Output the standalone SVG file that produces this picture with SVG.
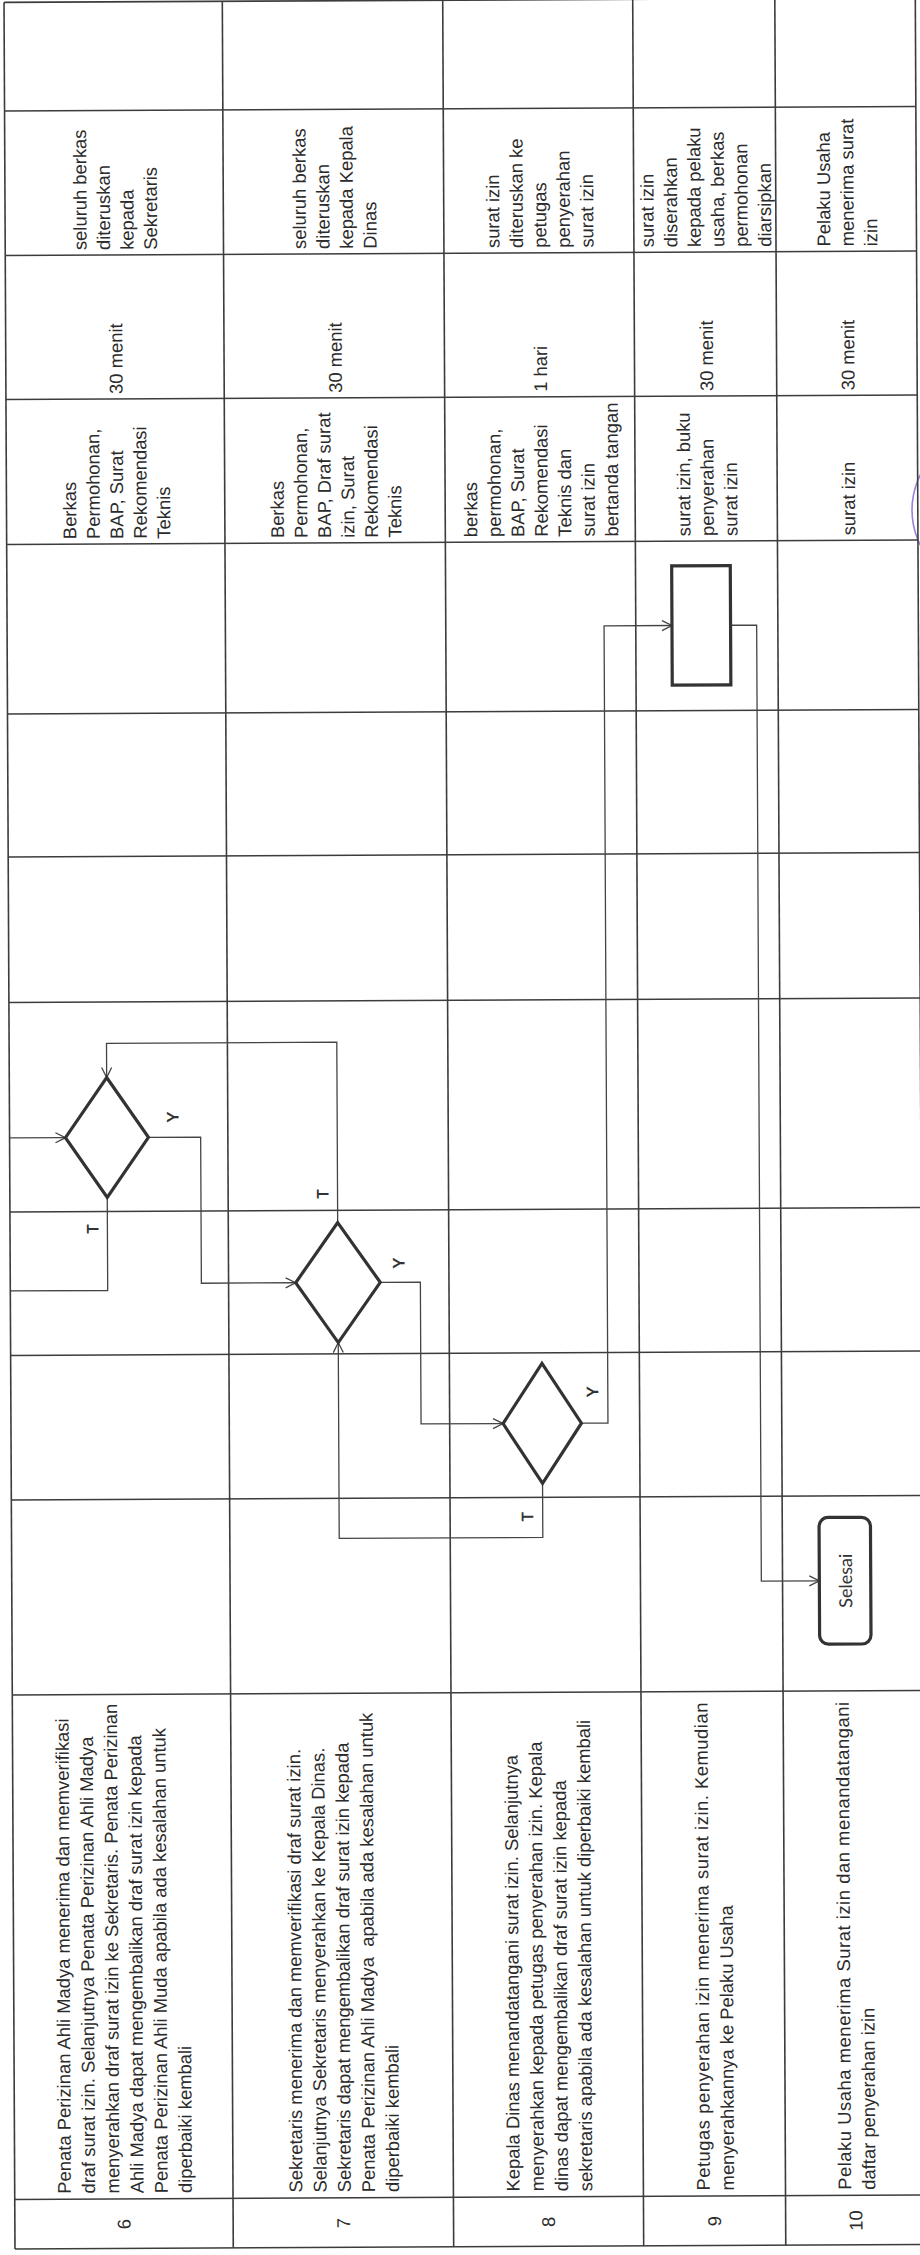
<svg xmlns="http://www.w3.org/2000/svg" width="920" height="2255" viewBox="0 0 920 2255">
<style>
.grid line{stroke:#3c3c3c;stroke-width:1.6}
.t{font-family:"Liberation Sans",Arial,sans-serif;font-size:18.4px;fill:#2b2b2b}
.lbl{font-family:Lato,"Liberation Sans",sans-serif;font-size:16px;font-weight:bold;fill:#333;text-anchor:middle;dominant-baseline:central}
.shape{fill:none;stroke:#333;stroke-width:3.2;stroke-linejoin:miter}
.conn path{fill:none;stroke:#444;stroke-width:1.3}
</style>
<defs>
<marker id="arr" viewBox="0 0 12 12" refX="11" refY="6" markerWidth="12" markerHeight="12" markerUnits="userSpaceOnUse" orient="auto">
<path d="M1,1 L11,6 L1,11" fill="none" stroke="#444" stroke-width="1.3"/>
</marker>
</defs>
<rect x="0" y="0" width="920" height="2255" fill="#fff"/>
<path d="M990,432 A78,78 0 0 0 990,588" fill="none" stroke="#9a80dc" stroke-width="1.6"/>
<g transform="rotate(-0.28)">
<g id="table" class="grid">
<line x1="4" y1="2.4" x2="4" y2="2249"/>
<line x1="222.3" y1="2.4" x2="222.3" y2="2249"/>
<line x1="442.7" y1="2.4" x2="442.7" y2="2249"/>
<line x1="632.7" y1="2.4" x2="632.7" y2="2249"/>
<line x1="774.8" y1="2.4" x2="774.8" y2="2249"/>
<line x1="915.3" y1="2.4" x2="915.3" y2="2249"/>
<line x1="4" y1="2.4" x2="915.3" y2="2.4"/>
<line x1="4" y1="111" x2="915.3" y2="111"/>
<line x1="4" y1="255.5" x2="915.3" y2="255.5"/>
<line x1="4" y1="399.5" x2="915.3" y2="399.5"/>
<line x1="4" y1="544.5" x2="915.3" y2="544.5"/>
<line x1="4" y1="714" x2="915.3" y2="714"/>
<line x1="4" y1="857" x2="915.3" y2="857"/>
<line x1="4" y1="1002.5" x2="915.3" y2="1002.5"/>
<line x1="4" y1="1212" x2="915.3" y2="1212"/>
<line x1="4" y1="1355.5" x2="915.3" y2="1355.5"/>
<line x1="4" y1="1500" x2="915.3" y2="1500"/>
<line x1="4" y1="1695" x2="915.3" y2="1695"/>
<line x1="4" y1="2199.5" x2="915.3" y2="2199.5"/>
<line x1="4" y1="2249" x2="915.3" y2="2249"/>
</g>

<g id="numbers" class="t" text-anchor="middle">
<text transform="translate(119.6,2224.7) rotate(-90)">6</text>
<text transform="translate(339,2224.7) rotate(-90)">7</text>
<text transform="translate(544.2,2224.7) rotate(-90)">8</text>
<text transform="translate(710.2,2224.7) rotate(-90)">9</text>
<text transform="translate(851.5,2224.7) rotate(-90)">10</text>
</g>

<g id="kegiatan" class="t">
<g transform="translate(60.15,2194) rotate(-90)">
<text x="0" y="0">Penata Perizinan Ahli Madya menerima dan memverifikasi</text>
<text x="0" y="24.2">draf surat izin. Selanjutnya Penata Perizinan Ahli Madya</text>
<text x="0" y="48.4">menyerahkan draf surat izin ke Sekretaris. Penata Perizinan</text>
<text x="0" y="72.6">Ahli Madya dapat mengembalikan draf surat izin kepada</text>
<text x="0" y="96.8">Penata Perizinan Ahli Muda apabila ada kesalahan untuk</text>
<text x="0" y="121">diperbaiki kembali</text>
</g>
<g transform="translate(291.6,2194) rotate(-90)">
<text x="0" y="0">Sekretaris menerima dan memverifikasi draf surat izin.</text>
<text x="0" y="24.2">Selanjutnya Sekretaris menyerahkan ke Kepala Dinas.</text>
<text x="0" y="48.4">Sekretaris dapat mengembalikan draf surat izin kepada</text>
<text x="0" y="72.6">Penata Perizinan Ahli Madya&#160; apabila ada kesalahan untuk</text>
<text x="0" y="96.8">diperbaiki kembali</text>
</g>
<g transform="translate(508.9,2194) rotate(-90)">
<text x="0" y="0">Kepala Dinas menandatangani surat izin. Selanjutnya</text>
<text x="0" y="24.2">menyerahkan kepada petugas penyerahan izin. Kepala</text>
<text x="0" y="48.4">dinas dapat mengembalikan draf surat izin kepada</text>
<text x="0" y="72.6">sekretaris apabila ada kesalahan untuk diperbaiki kembali</text>
</g>
<g transform="translate(699.15,2194) rotate(-90)">
<text x="0" y="0" textLength="488" lengthAdjust="spacing">Petugas penyerahan izin menerima surat izin. Kemudian</text>
<text x="0" y="24.2">menyerahkannya ke Pelaku Usaha</text>
</g>
<g transform="translate(840.45,2194) rotate(-90)">
<text x="0" y="0" textLength="488" lengthAdjust="spacing">Pelaku Usaha menerima Surat izin dan menandatangani</text>
<text x="0" y="24.2">daftar penyerahan izin</text>
</g>
</g>

<g id="kelengkapan" class="t">
<g transform="translate(73.65,539.5) rotate(-90)">
<text x="0" y="0">Berkas</text>
<text x="0" y="23.5">Permohonan,</text>
<text x="0" y="47">BAP, Surat</text>
<text x="0" y="70.5">Rekomendasi</text>
<text x="0" y="94">Teknis</text>
</g>
<g transform="translate(281.25,539.5) rotate(-90)">
<text x="0" y="0">Berkas</text>
<text x="0" y="23.5">Permohonan,</text>
<text x="0" y="47">BAP, Draf surat</text>
<text x="0" y="70.5">izin, Surat</text>
<text x="0" y="94">Rekomendasi</text>
<text x="0" y="117.5">Teknis</text>
</g>
<g transform="translate(474.7,539.5) rotate(-90)">
<text x="0" y="0">berkas</text>
<text x="0" y="23.5">permohonan,</text>
<text x="0" y="47">BAP, Surat</text>
<text x="0" y="70.5">Rekomendasi</text>
<text x="0" y="94">Teknis dan</text>
<text x="0" y="117.5">surat izin</text>
<text x="0" y="141">bertanda tangan</text>
</g>
<g transform="translate(687.75,539.5) rotate(-90)">
<text x="0" y="0">surat izin, buku</text>
<text x="0" y="23.5">penyerahan</text>
<text x="0" y="47">surat izin</text>
</g>
<g transform="translate(852.55,539.5) rotate(-90)">
<text x="0" y="0">surat izin</text>
</g>
</g>

<g id="waktu" class="t">
<text transform="translate(120.65,394.5) rotate(-90)">30 menit</text>
<text transform="translate(340,394.5) rotate(-90)">30 menit</text>
<text transform="translate(545.2,394.5) rotate(-90)">1 hari</text>
<text transform="translate(711.25,394.5) rotate(-90)">30 menit</text>
<text transform="translate(852.55,394.5) rotate(-90)">30 menit</text>
</g>

<g id="output" class="t">
<g transform="translate(85.4,250.5) rotate(-90)">
<text x="0" y="0">seluruh berkas</text>
<text x="0" y="23.5">diteruskan</text>
<text x="0" y="47">kepada</text>
<text x="0" y="70.5">Sekretaris</text>
</g>
<g transform="translate(304.75,250.5) rotate(-90)">
<text x="0" y="0">seluruh berkas</text>
<text x="0" y="23.5">diteruskan</text>
<text x="0" y="47">kepada Kepala</text>
<text x="0" y="70.5">Dinas</text>
</g>
<g transform="translate(498.2,250.5) rotate(-90)">
<text x="0" y="0">surat izin</text>
<text x="0" y="23.5">diteruskan ke</text>
<text x="0" y="47">petugas</text>
<text x="0" y="70.5">penyerahan</text>
<text x="0" y="94">surat izin</text>
</g>
<g transform="translate(652.5,250.5) rotate(-90)">
<text x="0" y="0">surat izin</text>
<text x="0" y="23.5">diserahkan</text>
<text x="0" y="47">kepada pelaku</text>
<text x="0" y="70.5">usaha, berkas</text>
<text x="0" y="94">permohonan</text>
<text x="0" y="117.5">diarsipkan</text>
</g>
<g transform="translate(829.05,250.5) rotate(-90)">
<text x="0" y="0">Pelaku Usaha</text>
<text x="0" y="23.5">menerima surat</text>
<text x="0" y="47">izin</text>
</g>
</g>

<g id="connectors" class="conn">
<path d="M4,1138 H59.9" marker-end="url(#arr)"/>
<path d="M142.9,1138 H195.1 V1284.2 H289.4" marker-end="url(#arr)"/>
<path d="M101.4,1198 V1291 H4"/>
<path d="M331.7,1224.2 V1043.8 H101.4 V1078" marker-end="url(#arr)"/>
<path d="M374,1284.2 H414.1 V1426 H496.1" marker-end="url(#arr)"/>
<path d="M535.3,1486 V1540 H331.7 V1344.2" marker-end="url(#arr)"/>
<path d="M574.5,1426 H601 V628.8 H668.9" marker-end="url(#arr)"/>
<path d="M727.5,628.8 H753.6 V1584.8 H811.6" marker-end="url(#arr)"/>
</g>

<g id="decision-6">
<polygon class="shape" points="101.4,1078 142.9,1138 101.4,1198 59.9,1138"/>
<text class="lbl" transform="translate(166.5,1117.8) rotate(-90)">Y</text>
<text class="lbl" transform="translate(86,1229.5) rotate(-90)">T</text>
</g>
<g id="decision-7">
<polygon class="shape" points="331.7,1224.2 374,1284.2 331.7,1344.2 289.4,1284.2"/>
<text class="lbl" transform="translate(391.8,1265) rotate(-90)">Y</text>
<text class="lbl" transform="translate(316.1,1195.6) rotate(-90)">T</text>
</g>
<g id="decision-8">
<polygon class="shape" points="535.3,1366 574.5,1426 535.3,1486 496.1,1426"/>
<text class="lbl" transform="translate(584.9,1394.6) rotate(-90)">Y</text>
<text class="lbl" transform="translate(519.3,1519.3) rotate(-90)">T</text>
</g>
<g id="process-9">
<rect class="shape" x="668.9" y="569.2" width="58.6" height="119.3"/>
</g>
<g id="end-10">
<rect class="shape" x="811.6" y="1521.5" width="51.4" height="126.7" rx="9" ry="9"/>
<text transform="translate(837.3,1584.8) rotate(-90)" font-family="Lato,'Liberation Sans',sans-serif" font-size="18" fill="#333" text-anchor="middle" dominant-baseline="central">Selesai</text>
</g>
</g>
</svg>
